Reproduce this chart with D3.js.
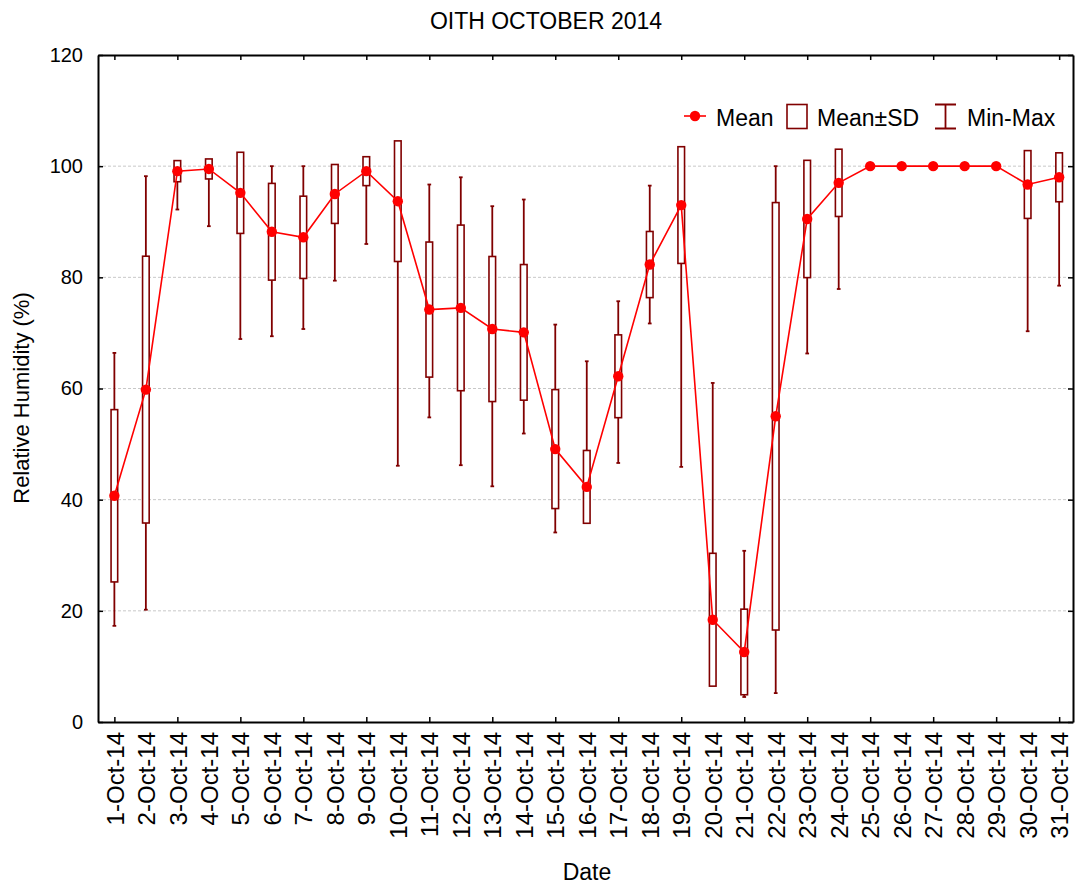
<!DOCTYPE html>
<html>
<head>
<meta charset="utf-8">
<script src="https://cdn.jsdelivr.net/npm/d3@7"></script>
<style>
  body { margin: 0; background: #fff; }
  svg text { font-family: "Liberation Sans", Arial, sans-serif; fill: #000; }
</style>
</head>
<body>
<div id="chart"></div>
<script>
var margin = {top: 55, right: 2, bottom: 165, left: 98},
  width = 975,
  height = 667;

// relative humidity, October 2014
var days = d3.range(1, 32);
var dayLabels = days.map(function(d) { return d + "-Oct-14"; });
var means = [40.7, 59.8, 99.1, 99.5, 95.2, 88.2, 87.2, 95.0, 99.1, 93.7,
  74.2, 74.5, 70.7, 70.1, 49.1, 42.3, 62.2, 82.3, 93.0, 18.4,
  12.6, 55.0, 90.5, 97.0, 100, 100, 100, 100, 100, 96.7, 98.0];
var sds = [15.5, 24.0, 1.9, 1.8, 7.3, 8.7, 7.4, 5.3, 2.6, 10.85,
  12.15, 14.9, 13.05, 12.2, 10.7, 6.55, 7.45, 5.95, 10.5, 11.95,
  7.7, 38.45, 10.55, 6.05, 0, 0, 0, 0, 0, 6.1, 4.4];
var mins = [17.3, 20.2, 92.2, 89.2, 68.9, 69.4, 70.7, 79.4, 86.0, 46.1,
  54.8, 46.2, 42.4, 51.9, 34.1, 37.0, 46.6, 71.7, 45.9, 7.0,
  4.5, 5.2, 66.3, 77.9, 100, 100, 100, 100, 100, 70.3, 78.5];
var maxs = [66.4, 98.2, 100, 100, 100, 100, 100, 100, 100, 100,
  96.7, 98.0, 92.8, 94.0, 71.5, 64.9, 75.7, 96.5, 100, 61.0,
  30.8, 100, 100, 100, 100, 100, 100, 100, 100, 100, 100];
var yTicks = [0, 20, 40, 60, 80, 100, 120];

var data = days.map(function(d, i) {
  return {day: d, mean: means[i], sd: sds[i], min: mins[i], max: maxs[i]};
});

var dark = "#800000", red = "#ff0000";

var svg = d3.select("#chart").append("svg")
  .attr("width", 1075)
  .attr("height", 887);

svg.append("text")
  .attr("x", 546)
  .attr("y", 29)
  .attr("text-anchor", "middle")
  .style("font-size", "23px")
  .text("OITH OCTOBER 2014");

var g = svg.append("g")
  .attr("transform", "translate(" + margin.left + "," + margin.top + ")");

var x = d3.scaleLinear().domain([0.48, 31.44]).range([0, width]);
var y = d3.scaleLinear().domain([0, 120]).range([height, 0]);

// grid
g.selectAll(".grid")
  .data(yTicks.filter(function(d) { return d > 0 && d < 120; }))
  .join("line")
  .attr("x1", 0).attr("x2", width)
  .attr("y1", function(d) { return y(d); })
  .attr("y2", function(d) { return y(d); })
  .attr("stroke", "#c8c8c8")
  .attr("stroke-width", 1)
  .attr("stroke-dasharray", "3,2");

// whiskers
var bw = x(1.21) - x(1), cw = x(1.118) - x(1);
var wh = g.selectAll(".wh").data(data).join("g");
wh.append("line")
  .attr("x1", function(d) { return x(d.day); })
  .attr("x2", function(d) { return x(d.day); })
  .attr("y1", function(d) { return y(d.min); })
  .attr("y2", function(d) { return y(d.max); });
wh.append("line")
  .attr("x1", function(d) { return x(d.day) - cw / 2; })
  .attr("x2", function(d) { return x(d.day) + cw / 2; })
  .attr("y1", function(d) { return y(d.min); })
  .attr("y2", function(d) { return y(d.min); });
wh.append("line")
  .attr("x1", function(d) { return x(d.day) - cw / 2; })
  .attr("x2", function(d) { return x(d.day) + cw / 2; })
  .attr("y1", function(d) { return y(d.max); })
  .attr("y2", function(d) { return y(d.max); });
wh.selectAll("line")
  .attr("stroke", dark)
  .attr("stroke-width", 1.8)
  .style("display", function() {
    var d = d3.select(this.parentNode).datum();
    return d.max === d.min ? "none" : null;
  });

// mean +- sd boxes
g.selectAll(".box")
  .data(data.filter(function(d) { return d.sd > 0; }))
  .join("rect")
  .attr("x", function(d) { return x(d.day) - bw / 2; })
  .attr("width", bw)
  .attr("y", function(d) { return y(d.mean + d.sd); })
  .attr("height", function(d) { return y(d.mean - d.sd) - y(d.mean + d.sd); })
  .attr("fill", "#fff")
  .attr("stroke", dark)
  .attr("stroke-width", 1.6);

// mean line
var line = d3.line()
  .x(function(d) { return x(d.day); })
  .y(function(d) { return y(d.mean); });

g.append("path")
  .datum(data)
  .attr("d", line)
  .attr("fill", "none")
  .attr("stroke", red)
  .attr("stroke-width", 1.6);

g.selectAll(".dot")
  .data(data)
  .join("circle")
  .attr("cx", function(d) { return x(d.day); })
  .attr("cy", function(d) { return y(d.mean); })
  .attr("r", 5.2)
  .attr("fill", red);

// axes
var xAxis = g.append("g")
  .attr("transform", "translate(0," + height + ")")
  .call(d3.axisBottom(x).tickValues(days).tickSizeInner(-5).tickSizeOuter(0)
    .tickFormat(function(d, i) { return dayLabels[i]; }));
xAxis.selectAll(".tick line")
  .style("display", function(d) { return d % 2 === 0 ? "none" : null; });
xAxis.selectAll(".tick text")
  .attr("transform", "rotate(-90)")
  .attr("text-anchor", "end")
  .attr("x", -10)
  .attr("y", 0)
  .attr("dy", "0.36em")
  .style("font-size", "24px");

g.append("g")
  .call(d3.axisTop(x).tickValues(days.filter(function(d) { return d % 2 === 1; }))
    .tickSizeInner(-5).tickSizeOuter(0).tickFormat(""));

g.append("g")
  .call(d3.axisLeft(y).tickValues(yTicks).tickSizeInner(-5).tickSizeOuter(0).tickPadding(15))
  .selectAll(".tick text")
  .style("font-size", "20px");

g.append("g")
  .attr("transform", "translate(" + width + ",0)")
  .call(d3.axisRight(y).tickValues(yTicks).tickSizeInner(-5).tickSizeOuter(0).tickFormat(""));

g.selectAll(".domain").attr("stroke", "#000").attr("stroke-width", 2);
g.selectAll(".tick line").attr("stroke", "#000").attr("stroke-width", 1.5);

svg.append("text")
  .attr("transform", "rotate(-90)")
  .attr("x", -398)
  .attr("y", 29)
  .attr("text-anchor", "middle")
  .style("font-size", "22px")
  .text("Relative Humidity (%)");

svg.append("text")
  .attr("x", 587)
  .attr("y", 880)
  .attr("text-anchor", "middle")
  .style("font-size", "23px")
  .text("Date");

// legend
var lg = svg.append("g");
lg.append("line").attr("x1", 684).attr("x2", 706).attr("y1", 116).attr("y2", 116)
  .attr("stroke", red).attr("stroke-width", 1.6);
lg.append("circle").attr("cx", 695).attr("cy", 116).attr("r", 5.2).attr("fill", red);
lg.append("text").attr("x", 716).attr("y", 126).style("font-size", "23px").text("Mean");
lg.append("rect").attr("x", 787).attr("y", 104.5).attr("width", 20).attr("height", 24)
  .attr("fill", "#fff").attr("stroke", dark).attr("stroke-width", 1.6);
lg.append("text").attr("x", 817).attr("y", 126).style("font-size", "23px").text("Mean±SD");
lg.append("path").attr("d", "M935,104.5H956M945.5,104.5V128.5M935,128.5H956")
  .attr("fill", "none").attr("stroke", dark).attr("stroke-width", 1.8);
lg.append("text").attr("x", 967).attr("y", 126).style("font-size", "23px").text("Min-Max");
</script>
</body>
</html>
